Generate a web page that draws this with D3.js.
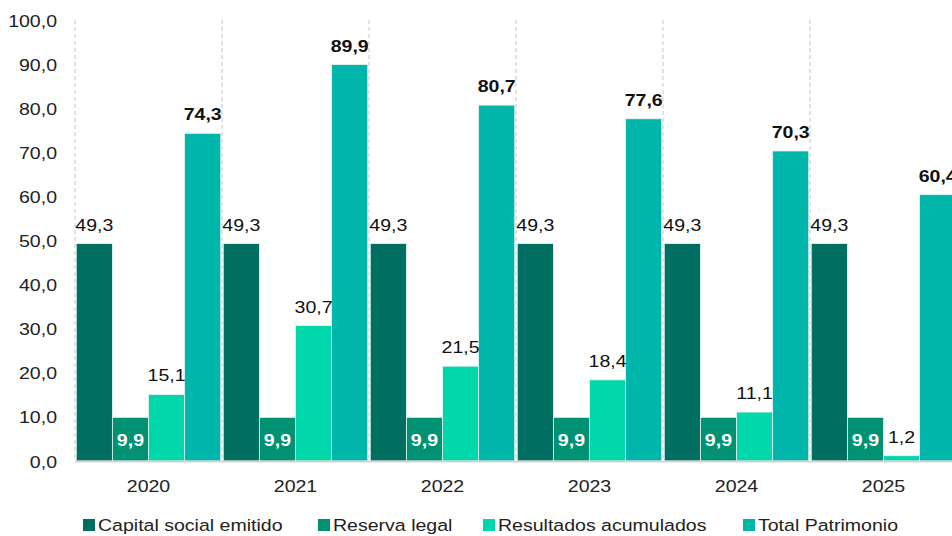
<!DOCTYPE html>
<html><head><meta charset="utf-8">
<script src="https://cdn.jsdelivr.net/npm/d3@7"></script>
<style>body{margin:0;background:#fff;} svg{display:block;font-family:"Liberation Sans",Arial,sans-serif;}</style>
</head><body>
<svg id="c" width="952" height="536"></svg>
<script>
const years = ["2020","2021","2022","2023","2024","2025"];
const seriesNames = ["Capital social emitido","Reserva legal","Resultados acumulados","Total Patrimonio"];
const capital = [49.3,49.3,49.3,49.3,49.3,49.3];
const reserva = [9.9,9.9,9.9,9.9,9.9,9.9];
const resultados = [15.1,30.7,21.5,18.4,11.1,1.2];
const total = [74.3,89.9,80.7,77.6,70.3,60.4];
const yTicks = [0,10,20,30,40,50,60,70,80,90,100];
const colors = ["#006e60","#009272","#00d8ab","#00b6aa"];

const seriesVals = [capital,reserva,resultados,total];
const svg = d3.select("#c");
const fmt = v => v.toFixed(1).replace(".", ",");
const SX = 1.15;
function stretch(sel){
  sel.each(function(){
    const t = d3.select(this);
    const x = +t.attr("x")||0, yy = +t.attr("y")||0;
    t.attr("x",0).attr("y",0).attr("dy",null).attr("transform",`translate(${x},${yy}) scale(${SX},1)`);
  });
}

const x0 = d3.scaleBand().domain(years).range([75,957]).paddingInner(0).paddingOuter(0);
const x1 = d3.scaleBand().domain(d3.range(4)).range([0,x0.bandwidth()]).paddingOuter(0.035).paddingInner(0);
const y = d3.scaleLinear().domain([0,100]).range([461,20]);

// y tick labels
const yAxis = d3.axisLeft(y).tickValues(yTicks).tickFormat(fmt).tickSize(0).tickPadding(0);
const ga = svg.append("g").attr("transform","translate(57,0)").call(yAxis);
ga.select(".domain").remove();
ga.selectAll("text").attr("font-size",17).attr("fill","#222").attr("font-family","Liberation Sans, Arial, sans-serif")
  .attr("y",6).call(stretch);

// dashed separators
svg.append("g").selectAll("line").data(years).join("line")
  .attr("x1",d=>x0(d)).attr("x2",d=>x0(d)).attr("y1",20).attr("y2",461)
  .attr("stroke","#cfcfcf").attr("stroke-width",1.2).attr("stroke-dasharray","4,3");

// bars
const groups = svg.append("g").selectAll("g").data(years).join("g")
  .attr("transform",d=>`translate(${x0(d)},0)`);
groups.selectAll("rect").data((d,i)=>seriesVals.map((s,k)=>({k,v:s[i]}))).join("rect")
  .attr("x",d=>x1(d.k)).attr("width",x1.bandwidth())
  .attr("y",d=>y(d.v)).attr("height",d=>y(0)-y(d.v))
  .attr("fill",d=>colors[d.k]).attr("stroke","#e6f5f2").attr("stroke-width",0.8);

// labels
groups.selectAll("text.lbl").data((d,i)=>seriesVals.map((s,k)=>({k,v:s[i]}))).join("text")
  .attr("class","lbl")
  .attr("x",d=>x1(d.k)+x1.bandwidth()/2)
  .attr("y",d=>d.k===1 ? (y(d.v)+y(0))/2+7 : y(d.v)-13)
  .attr("text-anchor","middle")
  .attr("font-size",17)
  .attr("font-weight",d=>(d.k===1||d.k===3)?"bold":"normal")
  .attr("fill",d=>d.k===1?"#fff":"#111")
  .text(d=>fmt(d.v)).call(stretch);

// x axis line
svg.append("line").attr("x1",75).attr("x2",957).attr("y1",461.5).attr("y2",461.5)
  .attr("stroke","#d4d4d4").attr("stroke-width",2);

// year labels
svg.append("g").selectAll("text").data(years).join("text")
  .attr("x",d=>x0(d)+x0.bandwidth()/2).attr("y",492)
  .attr("text-anchor","middle").attr("font-size",17).attr("fill","#222").text(d=>d).call(stretch);

// legend
const legX = [83,318,483,743];
const lg = svg.append("g").selectAll("g").data(seriesNames).join("g")
  .attr("transform",(d,i)=>`translate(${legX[i]},519)`);
lg.append("rect").attr("width",12).attr("height",12).attr("y",0).attr("fill",(d,i)=>colors[i]);
lg.append("text").attr("x",15).attr("y",12).attr("font-size",17).attr("fill","#222").text(d=>d).call(stretch);
</script>
</body></html>
